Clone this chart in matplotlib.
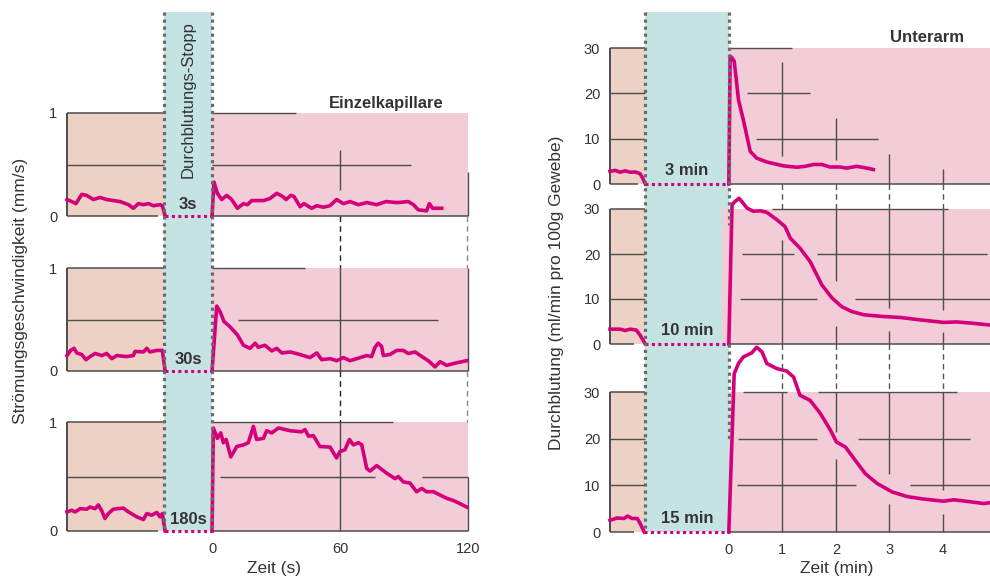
import numpy as np
import matplotlib.pyplot as plt

plt.rcParams['font.family'] = ['Liberation Sans', 'DejaVu Sans']

W, H = 990, 578

# colours
MAG = '#d4007b'
PINK = '#f2cdd8'
PEACH = '#ecd1c4'
BAND = '#c6e3e3'
GRID = '#4d4d4d'
DOT = '#6b6b6b'
TXT = '#333333'

# ---------------- data: single capillary (mm/s vs s) ----------------
k3_pre_t = [-68, -65.8, -63.8, -61.1, -58.8, -55.6, -52.5, -49.4, -46.3, -43.1, -39.2, -36.9,
            -34.5, -32.2, -29.8, -27.5, -24.4, -23.3, -22]
k3_pre_v = [0.16, 0.14, 0.12, 0.21, 0.20, 0.16, 0.18, 0.16, 0.15, 0.14, 0.11, 0.075,
            0.12, 0.11, 0.12, 0.10, 0.11, 0.10, 0.0]
k3_post_t = [0, 0.9, 2.5, 4.5, 6.9, 9.2, 11.9, 14.7, 16.6, 18.6, 24.1, 27.2, 30.3, 33.1, 34.7,
             36.9, 38.4, 41.3, 43.1, 46.7, 49.1, 52.2, 55.3, 58.4, 61.6, 64.7, 68.6, 72.5,
             77.2, 81.6, 86.6, 92.0, 94.4, 96.7, 100.6, 101.9, 103.4, 107.7]
k3_post_v = [0, 0.33, 0.22, 0.16, 0.20, 0.16, 0.075, 0.12, 0.11, 0.15, 0.15, 0.17, 0.22, 0.19,
             0.16, 0.20, 0.19, 0.09, 0.12, 0.075, 0.10, 0.085, 0.10, 0.16, 0.12, 0.14, 0.11,
             0.13, 0.11, 0.14, 0.13, 0.14, 0.11, 0.06, 0.05, 0.12, 0.075, 0.075]

k30_pre_t = [-68, -66.3, -64.7, -63.4, -61.1, -59.1, -57.2, -54.8, -51.7, -49.4, -47.0, -44.7,
             -40.0, -36.9, -36.1, -32.2, -30.6, -29.1, -25.9, -23.3, -22]
k30_pre_v = [0.15, 0.20, 0.22, 0.175, 0.16, 0.11, 0.14, 0.17, 0.15, 0.17, 0.12, 0.15,
             0.14, 0.15, 0.19, 0.185, 0.22, 0.185, 0.20, 0.20, 0.0]
k30_post_t = [0, 2.2, 3.8, 5.6, 8.4, 11.9, 14.7, 17.8, 20.2, 21.7, 24.8, 28.0, 30.3, 32.7, 36.6,
              41.3, 45.9, 49.1, 51.4, 55.3, 58.4, 61.6, 64.7, 69.4, 72.5, 74.8, 76.4, 77.9,
              79.5, 80.3, 83.4, 86.6, 89.7, 92.0, 95.2, 99.1, 101.4, 104.5, 106.9, 110.0,
              114.7, 119.4]
k30_post_v = [0, 0.63, 0.575, 0.48, 0.43, 0.35, 0.25, 0.22, 0.27, 0.23, 0.25, 0.195, 0.22, 0.175,
              0.185, 0.16, 0.13, 0.175, 0.11, 0.12, 0.10, 0.13, 0.10, 0.13, 0.15, 0.14, 0.23,
              0.27, 0.24, 0.15, 0.16, 0.20, 0.20, 0.17, 0.185, 0.13, 0.10, 0.04, 0.09, 0.055,
              0.08, 0.10]

k180_pre_t = [-68, -65.8, -64.2, -61.9, -58.8, -57.2, -54.8, -53.3, -51.7, -50.2, -48.6, -46.3,
              -41.6, -39.2, -35.3, -32.2, -30.6, -28.3, -25.9, -24.4, -23.3, -22]
k180_pre_v = [0.175, 0.19, 0.175, 0.205, 0.20, 0.22, 0.205, 0.24, 0.185, 0.115, 0.16, 0.20,
              0.21, 0.175, 0.13, 0.105, 0.16, 0.145, 0.17, 0.13, 0.16, 0.0]
k180_post_t = [0, 0.6, 2.5, 4.1, 5.3, 6.6, 8.8, 11.6, 14.7, 17.0, 19.4, 20.9, 24.1, 25.6, 28.0,
               31.1, 36.6, 42.0, 43.6, 45.2, 47.5, 50.6, 55.3, 58.4, 60.0, 62.3, 64.4, 66.3,
               68.6, 70.2, 72.5, 74.1, 77.2, 81.9, 85.8, 87.3, 89.7, 92.8, 95.9, 98.3, 100.6,
               103.8, 106.9, 110.0, 113.1, 116.3, 119.4]
k180_post_v = [0, 0.945, 0.85, 0.90, 0.81, 0.84, 0.68, 0.775, 0.79, 0.81, 0.96, 0.84, 0.85, 0.92,
               0.90, 0.945, 0.92, 0.91, 0.93, 0.87, 0.875, 0.775, 0.77, 0.67, 0.73, 0.745, 0.84,
               0.79, 0.81, 0.79, 0.575, 0.55, 0.60, 0.53, 0.48, 0.50, 0.45, 0.44, 0.36, 0.39,
               0.36, 0.36, 0.33, 0.30, 0.28, 0.25, 0.22]

# ---------------- data: forearm (ml/min/100 g vs min) ----------------
u3_pre_t = [-2.22, -2.12, -2.03, -1.94, -1.84, -1.75, -1.66, -1.61, -1.56]
u3_pre_v = [2.8, 3.0, 2.6, 2.9, 2.6, 2.65, 2.3, 1.3, 0]
u3_post_t = [0, 0.025, 0.06, 0.1, 0.14, 0.18, 0.27, 0.4, 0.52, 0.71, 1.02, 1.27, 1.43, 1.58,
             1.74, 1.89, 2.08, 2.2, 2.39, 2.58, 2.7]
u3_post_v = [0, 28.2, 27.8, 27.1, 23.0, 18.6, 14.2, 7.2, 5.7, 4.85, 4.0, 3.7, 3.9, 4.3, 4.3,
             3.75, 3.75, 3.5, 3.9, 3.5, 3.2]

u10_pre_t = [-2.22, -2.03, -1.94, -1.84, -1.73, -1.66, -1.56]
u10_pre_v = [3.3, 3.3, 3.0, 3.3, 3.1, 2.0, 0]
u10_post_t = [0, 0.06, 0.12, 0.19, 0.24, 0.34, 0.46, 0.59, 0.71, 0.9, 1.05, 1.15, 1.33, 1.52,
              1.74, 1.93, 2.11, 2.3, 2.52, 2.89, 3.2, 3.58, 4.01, 4.26, 4.57, 4.89]
u10_post_v = [0, 31.0, 31.7, 32.4, 31.7, 30.2, 29.5, 29.6, 29.25, 27.6, 26.1, 23.5, 21.3, 18.3,
              13.1, 10.2, 8.3, 7.2, 6.5, 6.1, 5.9, 5.35, 4.8, 4.9, 4.6, 4.2]

u15_pre_t = [-2.22, -2.09, -1.96, -1.89, -1.81, -1.71, -1.66, -1.58]
u15_pre_v = [2.5, 3.0, 2.9, 3.4, 2.9, 2.9, 1.9, 0]
u15_post_t = [0, 0.1, 0.18, 0.27, 0.43, 0.52, 0.62, 0.71, 0.9, 1.08, 1.21, 1.33, 1.52, 1.71,
              1.9, 2.01, 2.18, 2.36, 2.55, 2.77, 3.05, 3.33, 3.61, 4.01, 4.2, 4.57, 4.76, 4.89]
u15_post_v = [0, 33.9, 36.1, 37.5, 38.4, 39.6, 38.6, 36.1, 35.0, 34.5, 33.2, 29.3, 28.2, 25.4,
              21.8, 19.3, 18.2, 15.4, 12.5, 10.4, 8.6, 7.6, 7.1, 6.6, 6.9, 6.4, 6.1, 6.3]

left_labels = ['3s', '30s', '180s']
right_labels = ['3 min', '10 min', '15 min']
left_xticks = [0, 60, 120]
right_xticks = [0, 1, 2, 3, 4]

# ---------------- layout (pixels) ----------------
L_X = (67, 468)
L_LIM = (-68, 120)
L_BAND = -22.5
L_BOX = [(113, 216), (268, 371), (422, 531)]
R_X = (610, 990)
R_LIM = (-2.22, 4.88)
R_BAND = -1.565
R_BOX = [(48, 184), (209, 344), (392, 532)]
TOP = 12

fig = plt.figure(figsize=(W / 100, H / 100), dpi=100)


def px_axes(x, top, bottom, z):
    a = fig.add_axes([x[0] / W, 1 - bottom / H, (x[1] - x[0]) / W, (bottom - top) / H], zorder=z)
    a.patch.set_alpha(0)
    return a


def box(x, y, lim, ymax, band, pink_from, yticks):
    ax = px_axes(x, y[0], y[1], 2)
    ax.set_xlim(*lim)
    ax.set_ylim(0, ymax)
    for s in ax.spines.values():
        s.set_visible(False)
    ax.tick_params(length=0, labelsize=10.5, labelcolor=TXT, pad=7)
    ax.set_yticks(yticks)
    ax.set_xticks([])
    ax.axvspan(lim[0], band, color=PEACH, lw=0, zorder=0)
    ax.axvspan(pink_from, lim[1], color=PINK, lw=0, zorder=0)
    ax.vlines(lim[0], 0, ymax, color=GRID, lw=1.4, clip_on=False)
    ax.hlines(ymax, lim[0], band, color=GRID, lw=1.1, clip_on=False)
    return ax


def grid(ax, hs, vs):
    for y, a, b in hs:
        ax.hlines(y, a, b, color=GRID, lw=1.1 if y == 0 else 1.0, zorder=1, clip_on=False)
    for x, a, b in vs:
        ax.vlines(x, a, b, color=GRID, lw=1.0, zorder=1, clip_on=False)


def curve(ax, t, v):
    ax.plot(t, v, color=MAG, lw=2.6, clip_on=False, solid_joinstyle='round', zorder=5)


# ---------- backgrounds (band) ----------
for X, LIM, BND, BOXES in [(L_X, L_LIM, L_BAND, L_BOX), (R_X, R_LIM, R_BAND, R_BOX)]:
    bg = px_axes(X, TOP, BOXES[-1][1], 1)
    bg.set_xlim(*LIM)
    bg.set_ylim(BOXES[-1][1], TOP)
    bg.axis('off')
    bg.axvspan(BND, 0, color=BAND, lw=0)

# ---------- left panel ----------
left_data = [(k3_pre_t, k3_pre_v, k3_post_t, k3_post_v),
             (k30_pre_t, k30_pre_v, k30_post_t, k30_post_v),
             (k180_pre_t, k180_pre_v, k180_post_t, k180_post_v)]
left_grid = [
    ([(1, 0, 39.4), (0.5, -68, L_BAND), (0.5, 0, 93.3), (0, -68, -25.3), (0, 0, 120)],
     [(60, 0.25, 0.64), (120, 0, 0.43)]),
    ([(1, 0, 43.6), (0.5, -68, L_BAND), (0.5, 12.2, 106), (0, -68, -22.5), (0, 0, 120)],
     [(60, 0, 1), (120, 0, 1)]),
    ([(1, 0, 84.9), (0.5, -68, L_BAND), (0.5, 3.8, 76.4), (0.5, 98.4, 120), (0, -68, -25.3),
      (0, 0, 120)],
     [(60, 0, 1), (120, 0, 0.5)]),
]
left_axes = []
for i, (y, d, g, lab) in enumerate(zip(L_BOX, left_data, left_grid, left_labels)):
    ax = box(L_X, y, L_LIM, 1, L_BAND, 0, [0, 1])
    grid(ax, *g)
    curve(ax, d[0], d[1])
    curve(ax, d[2], d[3])
    ax.plot([d[0][-1], 0], [0, 0], color=MAG, lw=2.2, ls=(0, (1, 1.1)), clip_on=False, zorder=4)
    ax.text(L_BAND / 2, 0.11, lab, ha='center', va='center', fontsize=12, fontweight='bold',
            color=TXT, zorder=6)
    left_axes.append(ax)
left_axes[-1].set_xticks(left_xticks)
left_axes[-1].tick_params(axis='x', pad=8)
left_axes[0].text(81.6, 1.09, 'Einzelkapillare', ha='center', va='center', fontsize=12,
                  fontweight='bold', color=TXT)

# ---------- right panel ----------
right_data = [(u3_pre_t, u3_pre_v, u3_post_t, u3_post_v),
              (u10_pre_t, u10_pre_v, u10_post_t, u10_post_v),
              (u15_pre_t, u15_pre_v, u15_post_t, u15_post_v)]
pre_h = [(10, -2.22, R_BAND), (20, -2.22, R_BAND)]
right_grid = [
    (pre_h + [(30, 0, 1.18), (20, 0.34, 1.52), (10, 0.51, 2.78), (0, -2.22, -1.7), (0, 0, 4.88)],
     [(1, 6.1, 27), (2, 5.2, 14.6), (3, 0, 6.7), (4, 0, 3.2)]),
    (pre_h + [(30, 0.8, 4.1), (20, 0.24, 1.21), (20, 1.65, 4.83), (10, 0.2, 1.65),
              (10, 2.36, 4.88), (0, -2.22, -1.78), (0, 0, 4.88)],
     [(1, 0, 23.2), (2, 13.9, 30), (2, 0, 3.9), (3, 7.9, 30), (3, 0, 3), (4, 7.5, 30),
      (4, 0, 2.7)]),
    (pre_h + [(30, 0.27, 1.08), (30, 1.67, 4.26), (20, 0.18, 1.65), (20, 2.42, 4.51),
              (10, 0.15, 2.38), (10, 3.39, 4.89), (0, -2.22, -1.78), (0, 0, 4.88)],
     [(1, 0, 30), (2, 21.4, 30), (2, 0, 15.7), (3, 12.5, 30), (3, 0, 6.1), (4, 8.9, 30),
      (4, 0, 3.9)]),
]
pink_start = [0, -0.13, 0]
right_axes = []
for y, d, g, lab, p0 in zip(R_BOX, right_data, right_grid, right_labels, pink_start):
    ax = box(R_X, y, R_LIM, 30, R_BAND, p0, [0, 10, 20, 30])
    grid(ax, *g)
    curve(ax, d[0], d[1])
    curve(ax, d[2], d[3])
    ax.plot([d[0][-1], 0], [0, 0], color=MAG, lw=2.2, ls=(0, (1, 1.1)), clip_on=False, zorder=4)
    ax.text(R_BAND / 2, 2.9, lab, ha='center', va='center', fontsize=12, fontweight='bold',
            color=TXT, zorder=6)
    right_axes.append(ax)
right_axes[-1].set_xticks(right_xticks)
right_axes[-1].tick_params(axis='x', pad=8)
right_axes[0].text(3.7, 32.3, 'Unterarm', ha='center', va='center', fontsize=12,
                   fontweight='bold', color=TXT)

# ---------- overlays: band edges and connectors ----------
dots = dict(color=DOT, lw=2.3, ls=(0, (1, 1.2)))
ov = px_axes(L_X, TOP, L_BOX[-1][1], 3)
ov.set_xlim(*L_LIM)
ov.set_ylim(L_BOX[-1][1], TOP)
ov.axis('off')
ov.vlines([L_BAND, 0], TOP, L_BOX[-1][1], **dots)
for a, b in zip(L_BOX[:-1], L_BOX[1:]):
    ov.vlines(60, a[1], b[0], color='#222222', lw=1.0, ls=(0, (4, 3)), clip_on=False)
    ov.vlines(119.6, a[1], b[0], color='#888888', lw=1.0, ls=(0, (4, 3)), clip_on=False)
ov.text(L_BAND / 2, 100, 'Durchblutungs-Stopp', rotation=90, ha='center', va='center',
        fontsize=12, color=TXT)

ov2 = px_axes(R_X, TOP, R_BOX[-1][1], 3)
ov2.set_xlim(*R_LIM)
ov2.set_ylim(R_BOX[-1][1], TOP)
ov2.axis('off')
ov2.vlines(R_BAND, TOP, R_BOX[-1][1], **dots)
ov2.vlines(0, TOP, 225, **dots)
ov2.vlines(0, R_BOX[1][1], 439, **dots)
for a, b in zip(R_BOX[:-1], R_BOX[1:]):
    ov2.vlines([1, 2, 3, 4], a[1], b[0], color='#555555', lw=1.0, ls=(0, (4, 3)))

fig.text(21 / W, 1 - 291 / H, 'Strömungsgeschwindigkeit (mm/s)', rotation=90, ha='center',
         va='center', fontsize=12.5, color=TXT)
fig.text(557 / W, 1 - 293 / H, 'Durchblutung (ml/min pro 100g Gewebe)', rotation=90,
         ha='center', va='center', fontsize=12.5, color=TXT)
fig.text(274 / W, 1 - 568 / H, 'Zeit (s)', ha='center', va='center', fontsize=12.5, color=TXT)
fig.text(837 / W, 1 - 568 / H, 'Zeit (min)', ha='center', va='center', fontsize=12.5, color=TXT)

fig.savefig('out.png', dpi=100)
